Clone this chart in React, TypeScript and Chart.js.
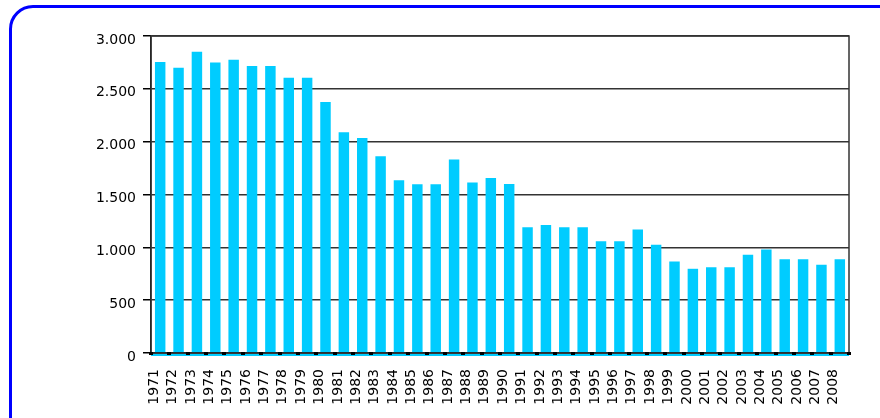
import React, { useEffect, useRef } from "react";
import { Chart, registerables } from "chart.js";

Chart.register(...registerables);

const years: string[] = [
  "1971", "1972", "1973", "1974", "1975", "1976", "1977", "1978", "1979", "1980",
  "1981", "1982", "1983", "1984", "1985", "1986", "1987", "1988", "1989", "1990",
  "1991", "1992", "1993", "1994", "1995", "1996", "1997", "1998", "1999", "2000",
  "2001", "2002", "2003", "2004", "2005", "2006", "2007", "2008",
];

const values: number[] = [
  2755, 2700, 2850, 2750, 2775, 2715, 2715, 2605, 2605, 2375,
  2090, 2035, 1862, 1636, 1596, 1596, 1832, 1614, 1655, 1600,
  1190, 1212, 1190, 1190, 1057, 1057, 1168, 1025, 867, 797,
  812, 812, 930, 980, 888, 888, 835, 888,
];

const yTickValues: number[] = [0, 500, 1000, 1500, 2000, 2500, 3000];
const yTickLabels: string[] = ["0", "500", "1.000", "1.500", "2.000", "2.500", "3.000"];

const BAR_COLOR = "#00CCFF";
const GRID_COLOR = "#333333";
const FONT = { family: "'DejaVu Sans', sans-serif", size: 14 };

const framePlugin = {
  id: "frame",
  afterDatasetsDraw(chart: any) {
    const { ctx, chartArea } = chart;
    const { left, right, top, bottom } = chartArea;
    ctx.save();
    // cyan floor line below x-axis
    ctx.fillStyle = BAR_COLOR;
    ctx.fillRect(left, bottom + 1, right - left, 2);
    // frame
    ctx.strokeStyle = GRID_COLOR;
    ctx.lineWidth = 1.5;
    ctx.strokeRect(left, top, right - left, bottom - top);
    // boundary markers on the x-axis
    const xs = chart.scales.x;
    ctx.fillStyle = "#000000";
    const n = years.length;
    for (let i = 0; i <= n; i++) {
      const px = i < n ? xs.getPixelForValue(i) - (xs.getPixelForValue(1) - xs.getPixelForValue(0)) / 2 : right;
      ctx.fillRect(Math.round(px) - 2, bottom - 1, 4, 3);
    }
    ctx.restore();
  },
};

export default function App() {
  const canvasRef = useRef<HTMLCanvasElement | null>(null);

  useEffect(() => {
    if (!canvasRef.current) return;
    const chart = new Chart(canvasRef.current, {
      type: "bar",
      data: {
        labels: years,
        datasets: [
          {
            data: values,
            backgroundColor: BAR_COLOR,
            borderWidth: 0,
            barPercentage: 0.57,
            categoryPercentage: 1.0,
          },
        ],
      },
      options: {
        animation: false,
        responsive: false,
        devicePixelRatio: 1,
        layout: { padding: { left: 0, right: 31, top: 36, bottom: 0 } },
        plugins: {
          legend: { display: false },
          tooltip: { enabled: false },
          title: { display: false },
        },
        scales: {
          x: {
            grid: { display: false, drawOnChartArea: false },
            border: { display: true, color: "#000000", width: 1.5 },
            ticks: {
              autoSkip: false,
              minRotation: 90,
              maxRotation: 90,
              color: "#000000",
              font: FONT,
              padding: 8,
              labelOffset: -6,
            },
            afterFit: (scale: any) => {
              scale.height = 65;
            },
          },
          y: {
            min: 0,
            max: 3000,
            afterBuildTicks: (scale: any) => {
              scale.ticks = yTickValues.map((v) => ({ value: v }));
            },
            grid: {
              color: GRID_COLOR,
              lineWidth: 1.5,
              drawTicks: true,
              tickLength: 8,
              tickColor: "#000000",
            },
            border: { display: true, color: "#000000", width: 1.5 },
            ticks: {
              color: "#000000",
              font: FONT,
              padding: 7,
              labelOffset: 4,
              callback: (value: any) => {
                const idx = yTickValues.indexOf(Number(value));
                return idx >= 0 ? yTickLabels[idx] : "";
              },
            },
            afterFit: (scale: any) => {
              scale.width = 151;
            },
          },
        },
      },
      plugins: [framePlugin],
    });
    return () => chart.destroy();
  }, []);

  return (
    <div
      style={{
        position: "fixed",
        left: 0,
        top: 0,
        width: 880,
        height: 418,
        overflow: "hidden",
        background: "#ffffff",
      }}
    >
      <div
        style={{
          position: "absolute",
          left: 9,
          top: 5,
          width: 900,
          height: 460,
          border: "3px solid #0000FF",
          borderRadius: 24,
          boxSizing: "border-box",
        }}
      />
      <canvas
        ref={canvasRef}
        width={880}
        height={418}
        style={{ position: "absolute", left: 0, top: 0, width: 880, height: 418 }}
      />
    </div>
  );
}
